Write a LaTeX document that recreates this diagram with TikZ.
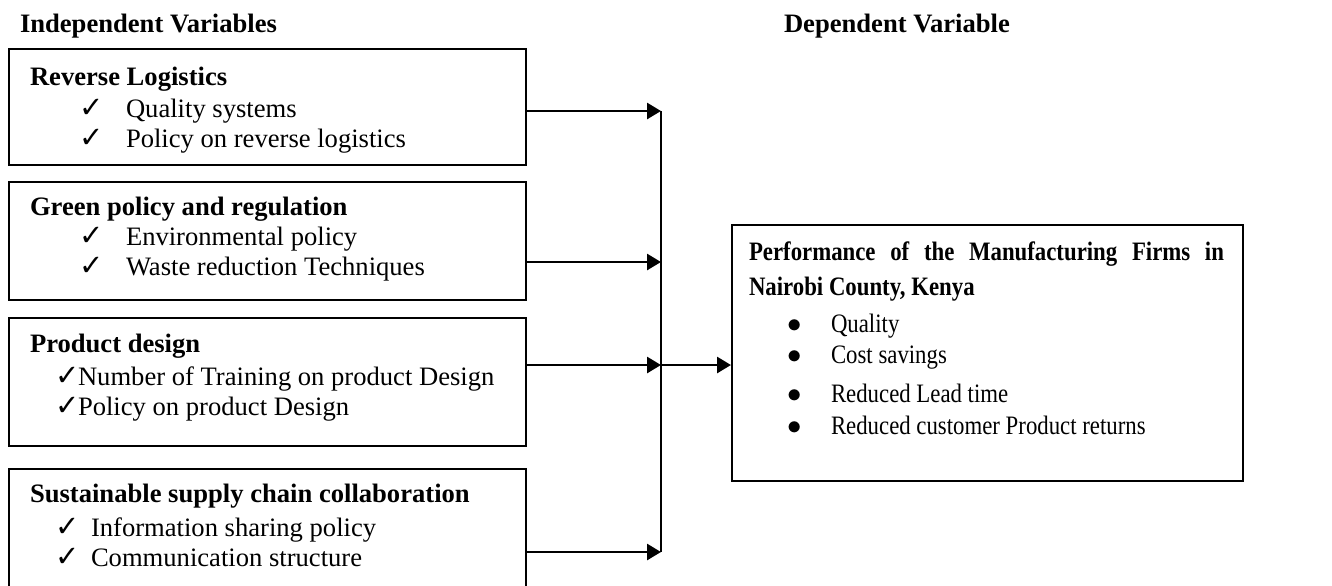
\documentclass[tikz,border=0pt]{standalone}
\usepackage{fontspec}
\usepackage{graphicx}
\setmainfont{Liberation Serif}
\newfontfamily\tickfont{DejaVu Sans}
\usetikzlibrary{arrows.meta}
% text in the outcome box is set a little condensed
\newcommand{\narrow}[1]{\scalebox{0.857}[1]{#1}}

\begin{document}
\begin{tikzpicture}[x=0.5pt, y=-0.5pt, font=\fontsize{13.3}{16}\selectfont, line width=1pt]
\tikzstyle{box}=[draw, anchor=north west, minimum width=258.5pt, inner sep=0pt]
\tikzstyle{txt}=[anchor=base west, inner sep=0pt]
\tikzstyle{head}=[txt, font=\fontsize{13.3}{16}\selectfont\bfseries]
\tikzstyle{chk}=[anchor=base west, inner sep=0pt, font=\fontsize{14.5}{16}\tickfont]
\tikzstyle{dot}=[anchor=base, inner sep=0pt, font=\fontsize{14}{16}\selectfont]
\tikzstyle{link}=[line width=1.4pt, -{Triangle[length=7pt, width=8pt]}]
\useasboundingbox (0,0) rectangle (1332,585);
\clip (0,0) rectangle (1332,585);

% column titles
\node[head] (indep) at (19,32) {Independent Variables};
\node[head] (dep) at (783,32) {Dependent Variable};

% independent variables
\node[box, minimum height=58pt] (rl) at (8,48) {};
\node[head] (rlt) at (29,85) {Reverse Logistics};
\node[chk] (rlc1) at (78,117) {✓}; \node[txt] (rl1) at (125,117) {Quality systems};
\node[chk] (rlc2) at (78,147) {✓}; \node[txt] (rl2) at (125,147) {Policy on reverse logistics};

\node[box, minimum height=59pt] (gp) at (8,181) {};
\node[head] (gpt) at (29,215) {Green policy and regulation};
\node[chk] (gpc1) at (78,245) {✓}; \node[txt] (gp1) at (125,245) {Environmental policy};
\node[chk] (gpc2) at (78,275) {✓}; \node[txt] (gp2) at (125,275) {Waste reduction Techniques};

\node[box, minimum height=64pt] (pd) at (8,317) {};
\node[head] (pdt) at (29,352) {Product design};
\node[chk] (pdc1) at (54,385) {✓}; \node[txt] (pd1) at (77,385) {Number of Training on product Design};
\node[chk] (pdc2) at (54,415) {✓}; \node[txt] (pd2) at (77,415) {Policy on product Design};

\node[box, minimum height=76pt] (sc) at (8,468) {};
\node[head] (sct) at (29,502) {Sustainable supply chain collaboration};
\node[chk] (scc1) at (54,536) {✓}; \node[txt] (sc1) at (90,536) {Information sharing policy};
\node[chk] (scc2) at (54,566) {✓}; \node[txt] (sc2) at (90,566) {Communication structure};

% dependent variable
\node[box, minimum width=255.5pt, minimum height=128pt] (perf) at (731,224) {};
\node[head] (pft1) at (748,260) {\narrow{\makebox[277.1pt][s]{Performance of the Manufacturing Firms in}}};
\node[head] (pft2) at (748,295) {\narrow{Nairobi County, Kenya}};
\node[dot] (pfd1) at (795,332) {$\bullet$}; \node[txt] (pf1) at (830,332) {\narrow{Quality}};
\node[dot] (pfd2) at (795,363) {$\bullet$}; \node[txt] (pf2) at (830,363) {\narrow{Cost savings}};
\node[dot] (pfd3) at (795,402) {$\bullet$}; \node[txt] (pf3) at (830,402) {\narrow{Reduced Lead time}};
\node[dot] (pfd4) at (795,434) {$\bullet$}; \node[txt] (pf4) at (830,434) {\narrow{Reduced customer Product returns}};

% arrows into the collector line
\coordinate (j1) at (661,111);
\coordinate (j2) at (661,262);
\coordinate (j3) at (661,365);
\coordinate (j4) at (661,552);
\draw[link] (rl.east |- j1) -- (j1);
\draw[link] (gp.east |- j2) -- (j2);
\draw[link] (pd.east |- j3) -- (j3);
\draw[link] (sc.east |- j4) -- (j4);
\draw (j1) -- (j4);
\draw[link] (j3) -- (perf.west |- j3);
\end{tikzpicture}
\end{document}
